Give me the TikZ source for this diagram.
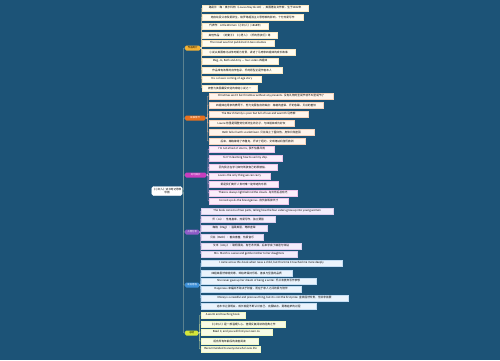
\documentclass[tikz,border=0pt]{standalone}
\usepackage{fontspec}
\newfontfamily\cjk{Noto Sans CJK SC}
\definecolor{bgblue}{HTML}{1C5377}
\definecolor{trunkc}{HTML}{7E9C9E}
\definecolor{colA}{HTML}{F2B134}
\definecolor{colB}{HTML}{E8711F}
\definecolor{colC}{HTML}{C83DBD}
\definecolor{colD}{HTML}{8D5BC7}
\definecolor{colE}{HTML}{3B8FD8}
\definecolor{colF}{HTML}{D5E63A}
\definecolor{tintA}{HTML}{FFFCF0}
\definecolor{tintB}{HTML}{FFF5EC}
\definecolor{tintC}{HTML}{FBEEFA}
\definecolor{tintD}{HTML}{F3EDFB}
\definecolor{tintE}{HTML}{EAF3FC}
\definecolor{tintF}{HTML}{F8FBE6}
\tikzset{
  rootbox/.style={draw=white, fill=white, rounded corners=1.5pt, align=center,
    font=\cjk\fontsize{2.6}{3.2}\selectfont, minimum width=30pt, minimum height=9pt, inner sep=0.8pt},
  branch/.style={anchor=west, rounded corners=1.2pt, minimum height=5pt, inner sep=0.5pt,
    font=\cjk\fontsize{2.4}{2.8}\selectfont},
  leaf/.style={anchor=west, minimum height=6pt, inner sep=0.6pt, line width=0.2pt,
    font=\cjk\fontsize{2.7}{3}\selectfont},
  trunk/.style={draw=trunkc, line width=0.6pt, rounded corners=1pt},
  twig/.style={line width=0.3pt, rounded corners=0.8pt},
}
\begin{document}
\begin{tikzpicture}[x=1pt,y=-1pt]
\fill[bgblue] (0,0) rectangle (500,360);
\useasboundingbox (0,0) rectangle (500,360);

\node[rootbox] (root) at (167,191) {《小妇人》读书笔记思维\\导图};

\node[branch, fill=colA, text=black, minimum width=15pt] (b1) at (185,48) {作品简介};
\node[branch, fill=colB, text=white, minimum width=20pt] (b2) at (185,118) {故事情节};
\node[branch, fill=colC, text=white, minimum width=21pt] (b3) at (185,175) {好句摘抄};
\node[branch, fill=colD, text=white, minimum width=14pt] (b4) at (185,232) {人物分析};
\node[branch, fill=colE, text=white, minimum width=14pt] (b5) at (185,285) {读后感悟};
\node[branch, fill=colF, text=black, minimum width=13pt] (b6) at (185,333) {总结};
\foreach \i in {1,...,6}
  \draw[trunk] (root.east) -- ++(1,0) |- (b\i.west);

\foreach \y/\w/\t [count=\i] in {
  8/106/{路易莎·梅·奥尔科特（Louisa May Alcott），美国著名女作家，生于1832年},
  17/101/{她自幼受父亲及爱默生、梭罗等超验主义思想家的影响，十分热爱写作},
  26/66/{代表作：Little Women《小妇人》(1868年)},
  35/75/{其他作品：《好妻子》《小男人》《乔的男孩们》等},
  43/72/{The novel was first published in two volumes},
  52/93/{小说以美国南北战争时期为背景，讲述了马奇家四姐妹的成长故事},
  61/76/{Meg, Jo, Beth and Amy — four sisters 四姐妹},
  70/80/{作品带有浓厚的自传色彩，乔的原型正是作者本人},
  79/59/{It is a classic coming-of-age story},
  88/55/{被誉为美国最受欢迎的家庭小说之一}}{
  \node[leaf, draw=colA!30, fill=tintA, minimum width=\w] (a\i) at (202,\y) {\t};
  \draw[twig, colA!45!white] (b1.east) -- ++(1,0) |- (a\i.west);
}

\foreach \y/\w/\t [count=\i] in {
  96/124/{Christmas won't be Christmas without any presents. 没有礼物的圣诞节就不叫圣诞节了},
  105/114/{四姐妹在母亲的教导下，努力克服各自的缺点：梅格的虚荣、乔的急躁、贝丝的羞怯},
  114/99/{The March family is poor but full of love and warmth 马奇家},
  123/85/{Laurie 劳里是隔壁劳伦斯先生的孙子，与四姐妹成为好友},
  132/105/{Beth falls ill with scarlet fever. 贝丝染上了猩红热，身体日渐虚弱},
  141/96/{后来，梅格嫁给了布鲁克，乔去了纽约，艾米随姑妈游历欧洲}}{
  \node[leaf, draw=colB!30, fill=tintB, minimum width=\w] (c\i) at (209,\y) {\t};
  \draw[twig, colB!45!white] (b2.east) -- ++(2,0) |- (c\i.west);
}

\foreach \y/\w/\t [count=\i] in {
  149/65/{I'm not afraid of storms, 我不怕暴风雨},
  158/73/{for I'm learning how to sail my ship.},
  167/68/{因为我正在学习如何驾驶自己的那艘船。},
  176/61/{Love is the only thing we can carry},
  184/69/{爱是我们离开人世时唯一能带走的东西},
  193/88/{There is always light behind the clouds. 乌云背后总有光},
  201/79/{Conceit spoils the finest genius. 自负会毁掉天才}}{
  \node[leaf, draw=colC!30, fill=tintC, minimum width=\w] (d\i) at (209,\y) {\t};
  \draw[twig, colC!45!white] (b3.east) -- ++(1.5,0) |- (d\i.west);
}

\foreach \y/\w/\t [count=\i] in {
  211/132/{The book consists of two parts, telling how the four sisters grow up into young women},
  219/74/{乔（Jo）：性格直率，热爱写作，独立要强},
  228/66/{梅格（Meg）：温柔美丽，略带虚荣},
  237/62/{贝丝（Beth）：善良害羞，热爱音乐},
  246/100/{艾米（Amy）：聪明漂亮，有艺术天赋，后来学会了谦逊与体贴},
  254/96/{Mrs. March is a wise and gentle mother to her daughters}}{
  \node[leaf, draw=colD!30, fill=tintD, minimum width=\w] (e\i) at (201,\y) {\t};
  \draw[twig, colD!45!white] (b4.east) -- ++(1,0) |- (e\i.west);
}

\foreach \y/\w/\t [count=\i] in {
  263/141/{I came across this book when I was a child, but this time it touched me more deeply},
  273/91/{四姐妹虽然家境贫寒，却始终保持乐观、善良与坚强的品质},
  281/115/{She never gave up her dream of being a writer. 乔从未放弃写作梦想},
  289/100/{Happiness 幸福并不取决于财富，而在于家人之间的爱与陪伴},
  298/147/{Money is a needful and precious thing, but it is not the first prize. 金钱固然珍贵，但并非首要},
  306/115/{这本书让我明白，成长就是不断认识自己、克服缺点、勇敢追梦的过程}}{
  \node[leaf, draw=colE!30, fill=tintE, minimum width=\w] (f\i) at (201,\y) {\t};
  \draw[twig, colE!45!white] (b5.east) -- ++(1,0) |- (f\i.west);
}

\foreach \y/\w/\t [count=\i] in {
  315/44/{A warm and touching book.},
  324/84/{《小妇人》是一部温暖人心、值得反复阅读的经典之作},
  332/71/{Read it, and you will find your own Jo.},
  341/57/{适合所有年龄段的读者阅读},
  349/59/{Recommended to everyone who loves life}}{
  \node[leaf, draw=colF!30, fill=tintF, minimum width=\w] (g\i) at (201,\y) {\t};
  \draw[twig, colF!45!white] (b6.east) -- ++(1,0) |- (g\i.west);
}
\end{tikzpicture}
\end{document}
